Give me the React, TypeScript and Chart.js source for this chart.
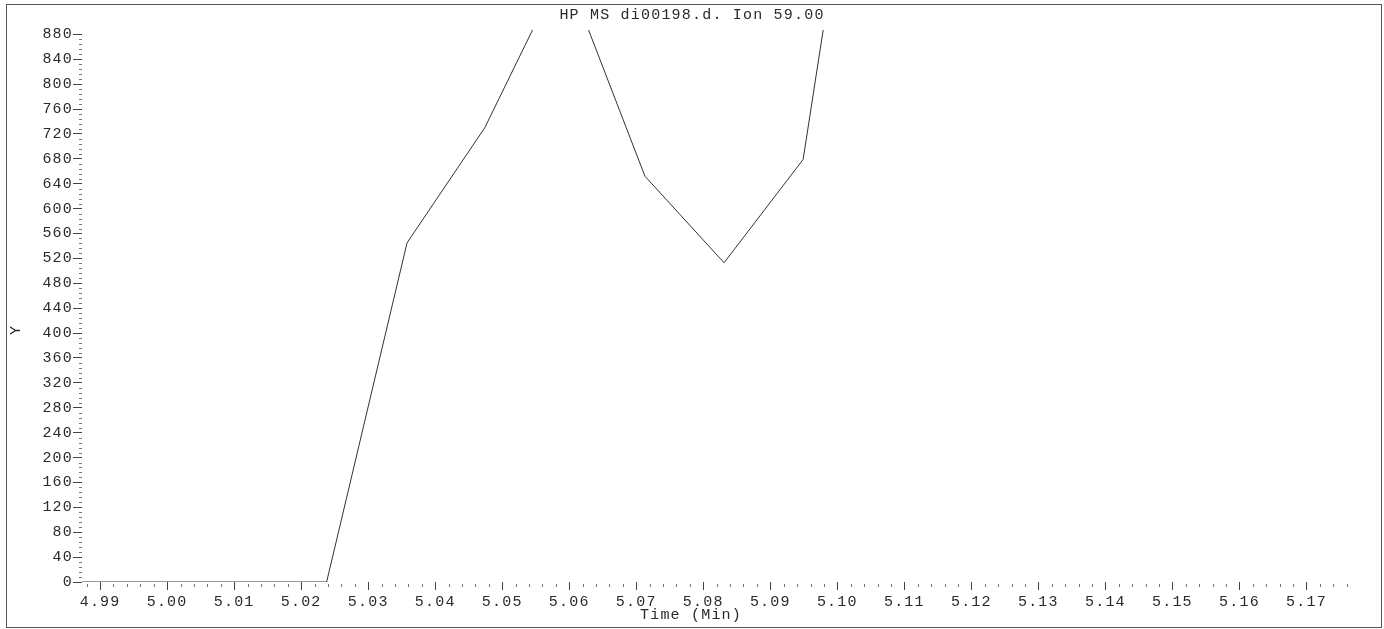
import React, { useEffect, useRef } from 'react';
import { Chart, registerables } from 'chart.js';

Chart.register(...registerables);

const TITLE = 'HP MS di00198.d. Ion 59.00';
const X_TITLE = 'Time (Min)';
const Y_TITLE = 'Y';

// Retention time (min) of each scan and the ion 59.00 abundance
const times = [4.9767, 4.9885, 5.0003, 5.0121, 5.0238, 5.0358, 5.0474, 5.0592, 5.0713, 5.0831, 5.0949, 5.1067, 5.1185, 5.1303, 5.1421, 5.1539, 5.1657, 5.1775];
const intensities = [0, 0, 0, 0, 0, 545, 730, 990, 652, 513, 679, 1500, 2300, 2900, 3100, 2800, 2300, 1800];

const xMajorTicks = [4.99, 5.0, 5.01, 5.02, 5.03, 5.04, 5.05, 5.06, 5.07, 5.08, 5.09, 5.1, 5.11, 5.12, 5.13, 5.14, 5.15, 5.16, 5.17];
const yMajorTicks = [0, 40, 80, 120, 160, 200, 240, 280, 320, 360, 400, 440, 480, 520, 560, 600, 640, 680, 720, 760, 800, 840, 880];

const X_MIN = 4.9873;
const X_MAX = 5.1762;
const Y_MIN = 0;
const Y_MAX = 887;

const FONT = '"Liberation Mono", "DejaVu Sans Mono", monospace';
const TEXT = '#2a2a2a';
const SPACING = '1.2px';

const xMinorTicks: number[] = [];
for (let k = 2494; k <= 2588; k++) if (k % 5 !== 0) xMinorTicks.push(k / 500);
const yMinorTicks: number[] = [];
for (let v = 8; v < 884; v += 8) if (v % 40 !== 0) yMinorTicks.push(v);

const paperPlugin = {
  id: 'paper',
  beforeDraw(chart: any) {
    const ctx = chart.ctx;
    ctx.save();
    ctx.fillStyle = '#ffffff';
    ctx.fillRect(0, 0, chart.width, chart.height);
    ctx.restore();
    ctx.letterSpacing = SPACING;
  },
  afterDraw(chart: any) {
    const ctx = chart.ctx;
    const xs = chart.scales.x;
    const ys = chart.scales.y;
    const area = chart.chartArea;
    ctx.save();
    ctx.strokeStyle = '#777';
    ctx.lineWidth = 1;
    ctx.beginPath();
    for (const v of xMinorTicks) {
      const px = Math.round(xs.getPixelForValue(v)) + 0.5;
      ctx.moveTo(px, area.bottom + 2);
      ctx.lineTo(px, area.bottom + 5);
    }
    for (const v of yMinorTicks) {
      const py = Math.round(ys.getPixelForValue(v)) + 0.5;
      ctx.moveTo(area.left - 3, py);
      ctx.lineTo(area.left, py);
    }
    ctx.stroke();

    ctx.strokeStyle = '#555';
    ctx.strokeRect(6.5, 4.5, 1375, 623);

    ctx.fillStyle = TEXT;
    ctx.font = '15px ' + FONT;
    ctx.letterSpacing = SPACING;
    ctx.textAlign = 'center';
    ctx.textBaseline = 'middle';
    ctx.fillText(TITLE, 692, 15);
    ctx.fillText(X_TITLE, 691, 615);
    ctx.translate(16, 330);
    ctx.rotate(-Math.PI / 2);
    ctx.fillText(Y_TITLE, 0, 0);
    ctx.restore();
  },
};

export default function App() {
  const ref = useRef<HTMLCanvasElement | null>(null);
  useEffect(() => {
    if (!ref.current) return;
    const tickFont = { family: FONT, size: 15, weight: 'normal' as const };
    const chart = new Chart(ref.current, {
      type: 'line',
      data: {
        datasets: [
          {
            data: times.map((t, i) => ({ x: t, y: intensities[i] })),
            borderColor: '#333',
            borderWidth: 1,
            pointRadius: 0,
            tension: 0,
            fill: false,
          },
        ],
      },
      options: {
        animation: false,
        responsive: false,
        devicePixelRatio: 1,
        layout: { padding: { left: 0, right: 36, top: 30, bottom: 23 }, autoPadding: false } as any,
        plugins: {
          legend: { display: false },
          tooltip: { enabled: false },
          title: { display: false },
        },
        scales: {
          x: {
            type: 'linear',
            min: X_MIN,
            max: X_MAX,
            afterBuildTicks: (s: any) => {
              s.ticks = xMajorTicks.map((v) => ({ value: v }));
            },
            afterFit: (s: any) => {
              s.height = 24;
            },
            grid: { display: true, drawOnChartArea: false, drawTicks: true, tickLength: 8, tickColor: '#444' },
            border: { display: false },
            ticks: {
              autoSkip: false,
              maxRotation: 0,
              padding: 3,
              color: TEXT,
              font: tickFont,
              callback: (v: any) => Number(v).toFixed(2),
            },
          },
          y: {
            type: 'linear',
            min: Y_MIN,
            max: Y_MAX,
            afterBuildTicks: (s: any) => {
              s.ticks = yMajorTicks.map((v) => ({ value: v }));
            },
            afterFit: (s: any) => {
              s.width = 82;
            },
            grid: { display: true, drawOnChartArea: false, drawTicks: true, tickLength: 9, tickColor: '#444' },
            border: { display: false },
            ticks: {
              padding: 0,
              color: TEXT,
              font: tickFont,
              callback: (v: any) => String(v),
            },
          },
        },
      },
      plugins: [paperPlugin],
    });
    return () => chart.destroy();
  }, []);
  return (
    <div style={{ position: 'absolute', left: 0, top: 0, width: 1384, height: 629, background: '#fff' }}>
      <canvas ref={ref} width={1384} height={629} style={{ display: 'block' }} />
    </div>
  );
}
